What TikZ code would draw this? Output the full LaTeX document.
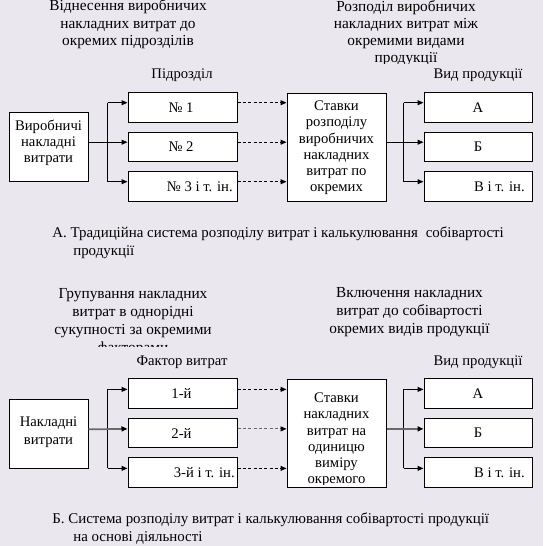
\documentclass[tikz,border=0pt]{standalone}
\usepackage{fontspec}
\setmainfont{Liberation Serif}
\usetikzlibrary{arrows.meta}
\definecolor{bgc}{RGB}{234,232,238}
\definecolor{midgray}{RGB}{105,105,105}
\begin{document}
\begin{tikzpicture}[x=0.75pt,y=-0.75pt,
  bx/.style={draw, fill=white, line width=0.75pt, inner sep=0pt},
  sbox/.style={bx, minimum width=81.75pt, minimum height=22pt},
  pbox/.style={bx, minimum width=81pt, minimum height=22pt},
  lbox/.style={bx, minimum width=59.25pt, minimum height=51.75pt},
  cbox/.style={bx, minimum width=74.25pt, minimum height=81pt},
  txt/.style={font=\rmfamily\fontsize{11}{13}\selectfont, inner sep=0pt, align=center},
  ln/.style={line width=0.75pt},
  arr/.style={ln, -{Triangle[length=4.5pt,width=3.75pt]}},
  dsh/.style={arr, dash pattern=on 2.4pt off 1.6pt},
  gry/.style={draw=midgray, line width=1.3pt, -{Triangle[length=4.5pt,width=3.75pt,color=black]}},
  gdsh/.style={gry, line width=0.9pt, dash pattern=on 2.4pt off 1.6pt},
]
\fill[bgc] (0,0) rectangle (543,546);
\useasboundingbox (0,0) rectangle (543,546);

% ================= Part A =================
\node[txt, font=\rmfamily\fontsize{11.5}{13.1}\selectfont] (ta1) at (128,24.5) {Віднесення виробничих\\накладних витрат до\\окремих підрозділів};
\begin{scope}
\clip (300,0) rectangle (520,63);
\node[txt, font=\rmfamily\fontsize{11.5}{12.75}\selectfont] (ta2) at (406,33) {Розподіл виробничих\\накладних витрат між\\окремими видами\\продукції};
\end{scope}
\node[txt] (la1) at (182,75) {Підрозділ};
\node[txt] (la2) at (478,75) {Вид продукції};

\node[lbox] (L1) at (48.5,147) {};
\node[txt, font=\rmfamily\fontsize{11}{12}\selectfont] (L1t) at (48.5,143) {Виробничі\\накладні\\витрати};

\node[sbox] (s1) at (182.5,107.5) {};
\node[sbox] (s2) at (182.5,147) {};
\node[sbox] (s3) at (182.5,186.5) {};
\node[txt] (s1t) at (181,107.5) {№ 1};
\node[txt] (s2t) at (181,147) {№ 2};
\node[txt, anchor=east] (s3t) at (233,186.5) {№ 3 і т. ін.};

\node[cbox] (C1) at (336.5,147) {};
\node[txt, font=\rmfamily\fontsize{11}{12.15}\selectfont] (C1t) at (336.5,148) {Ставки\\розподілу\\виробничих\\накладних\\витрат по\\окремих};

\node[pbox] (p1) at (478,107.5) {};
\node[pbox] (p2) at (478,147) {};
\node[pbox] (p3) at (478,186.5) {};
\node[txt] (p1t) at (478,107.5) {А};
\node[txt] (p2t) at (478,147) {Б};
\node[txt, anchor=east] (p3t) at (525,186.5) {В і т. ін.};

% connectors A
\draw[ln] ([xshift=-15pt,yshift=3.6pt]s1.west) -- ([xshift=-15pt,yshift=3.6pt]s3.west);
\draw[arr] ([xshift=-15pt,yshift=3.6pt]s1.west) -- ([yshift=3.6pt]s1.west);
\draw[arr] ([xshift=-15pt,yshift=3.6pt]s3.west) -- ([yshift=3.6pt]s3.west);
\draw[arr] ([yshift=3.6pt]L1.east) -- ([yshift=3.6pt]s2.west);
\draw[dsh] ([yshift=3.6pt]s1.east) -- ([yshift=3.6pt]s1.east -| C1.west);
\draw[dsh] ([yshift=3.6pt]s2.east) -- ([yshift=3.6pt]s2.east -| C1.west);
\draw[dsh] ([yshift=3.6pt]s3.east) -- ([yshift=3.6pt]s3.east -| C1.west);
\draw[ln] ([xshift=-15pt,yshift=3.6pt]p1.west) -- ([xshift=-15pt,yshift=3.6pt]p3.west);
\draw[arr] ([xshift=-15pt,yshift=3.6pt]p1.west) -- ([yshift=3.6pt]p1.west);
\draw[arr] ([xshift=-15pt,yshift=3.6pt]p3.west) -- ([yshift=3.6pt]p3.west);
\draw[arr] ([yshift=3.6pt]C1.east) -- ([yshift=3.6pt]p2.west);

\node[txt, align=left, anchor=west, font=\rmfamily\fontsize{11.2}{13.5}\selectfont] (capA) at (52,243) {А. Традиційна система розподілу витрат і калькулювання\hspace{3pt} собівартості\\\hspace*{15.75pt}продукції};

% ================= Part B =================
\begin{scope}
\clip (20,280) rectangle (250,346);
\node[txt, font=\rmfamily\fontsize{11.5}{13.5}\selectfont] (tb1) at (133,322) {Групування накладних\\витрат в однорідні\\сукупності за окремими\\факторами};
\end{scope}
\node[txt, font=\rmfamily\fontsize{11.5}{13.5}\selectfont] (tb2) at (409.5,312) {Включення накладних\\витрат до собівартості\\окремих видів продукції};
\node[txt] (lb1) at (182,362) {Фактор витрат};
\node[txt] (lb2) at (478,362) {Вид продукції};

\node[lbox] (L2) at (48.5,433.5) {};
\node[txt, font=\rmfamily\fontsize{11}{13.5}\selectfont] (L2t) at (48.5,432) {Накладні\\витрати};

\node[sbox] (f1) at (182.5,393.5) {};
\node[sbox] (f2) at (182.5,433) {};
\node[sbox] (f3) at (182.5,472.5) {};
\node[txt] (f1t) at (181.5,393.5) {1-й};
\node[txt] (f2t) at (181.5,433) {2-й};
\node[txt, anchor=east] (f3t) at (235,472.5) {3-й і т. ін.};

\node[cbox] (C2) at (336.5,433) {};
\begin{scope}
\clip (289,381) rectangle (384,484);
\node[txt, font=\rmfamily\fontsize{11}{12.2}\selectfont] (C2t) at (336.5,440) {Ставки\\накладних\\витрат на\\одиницю\\виміру\\окремого};
\end{scope}

\node[pbox] (q1) at (478,393.5) {};
\node[pbox] (q2) at (478,433) {};
\node[pbox] (q3) at (478,472.5) {};
\node[txt] (q1t) at (478,393.5) {А};
\node[txt] (q2t) at (478,433) {Б};
\node[txt, anchor=east] (q3t) at (525,472.5) {В і т. ін.};

% connectors B
\draw[ln] ([xshift=-15pt,yshift=3.1pt]f1.west) -- ([xshift=-15pt,yshift=3.1pt]f3.west);
\draw[arr] ([xshift=-15pt,yshift=3.1pt]f1.west) -- ([yshift=3.1pt]f1.west);
\draw[arr] ([xshift=-15pt,yshift=3.1pt]f3.west) -- ([yshift=3.1pt]f3.west);
\draw[gry] ([yshift=3.1pt]L2.east) -- ([yshift=3.1pt]f2.west);
\draw[dsh] ([yshift=3.1pt]f1.east) -- ([yshift=3.1pt]f1.east -| C2.west);
\draw[gdsh] ([yshift=3.1pt]f2.east) -- ([yshift=3.1pt]f2.east -| C2.west);
\draw[dsh] ([yshift=3.1pt]f3.east) -- ([yshift=3.1pt]f3.east -| C2.west);
\draw[ln] ([xshift=-15pt,yshift=3.1pt]q1.west) -- ([xshift=-15pt,yshift=3.1pt]q3.west);
\draw[arr] ([xshift=-15pt,yshift=3.1pt]q1.west) -- ([yshift=3.1pt]q1.west);
\draw[arr] ([xshift=-15pt,yshift=3.1pt]q3.west) -- ([yshift=3.1pt]q3.west);
\draw[gry] ([yshift=3.1pt]C2.east) -- ([yshift=3.1pt]q2.west);

\node[txt, align=left, anchor=west, font=\rmfamily\fontsize{11.2}{13.5}\selectfont] (capB) at (52,529) {Б. Система розподілу витрат і калькулювання собівартості продукції\\\hspace*{15.75pt}на основі діяльності};
\end{tikzpicture}
\end{document}
